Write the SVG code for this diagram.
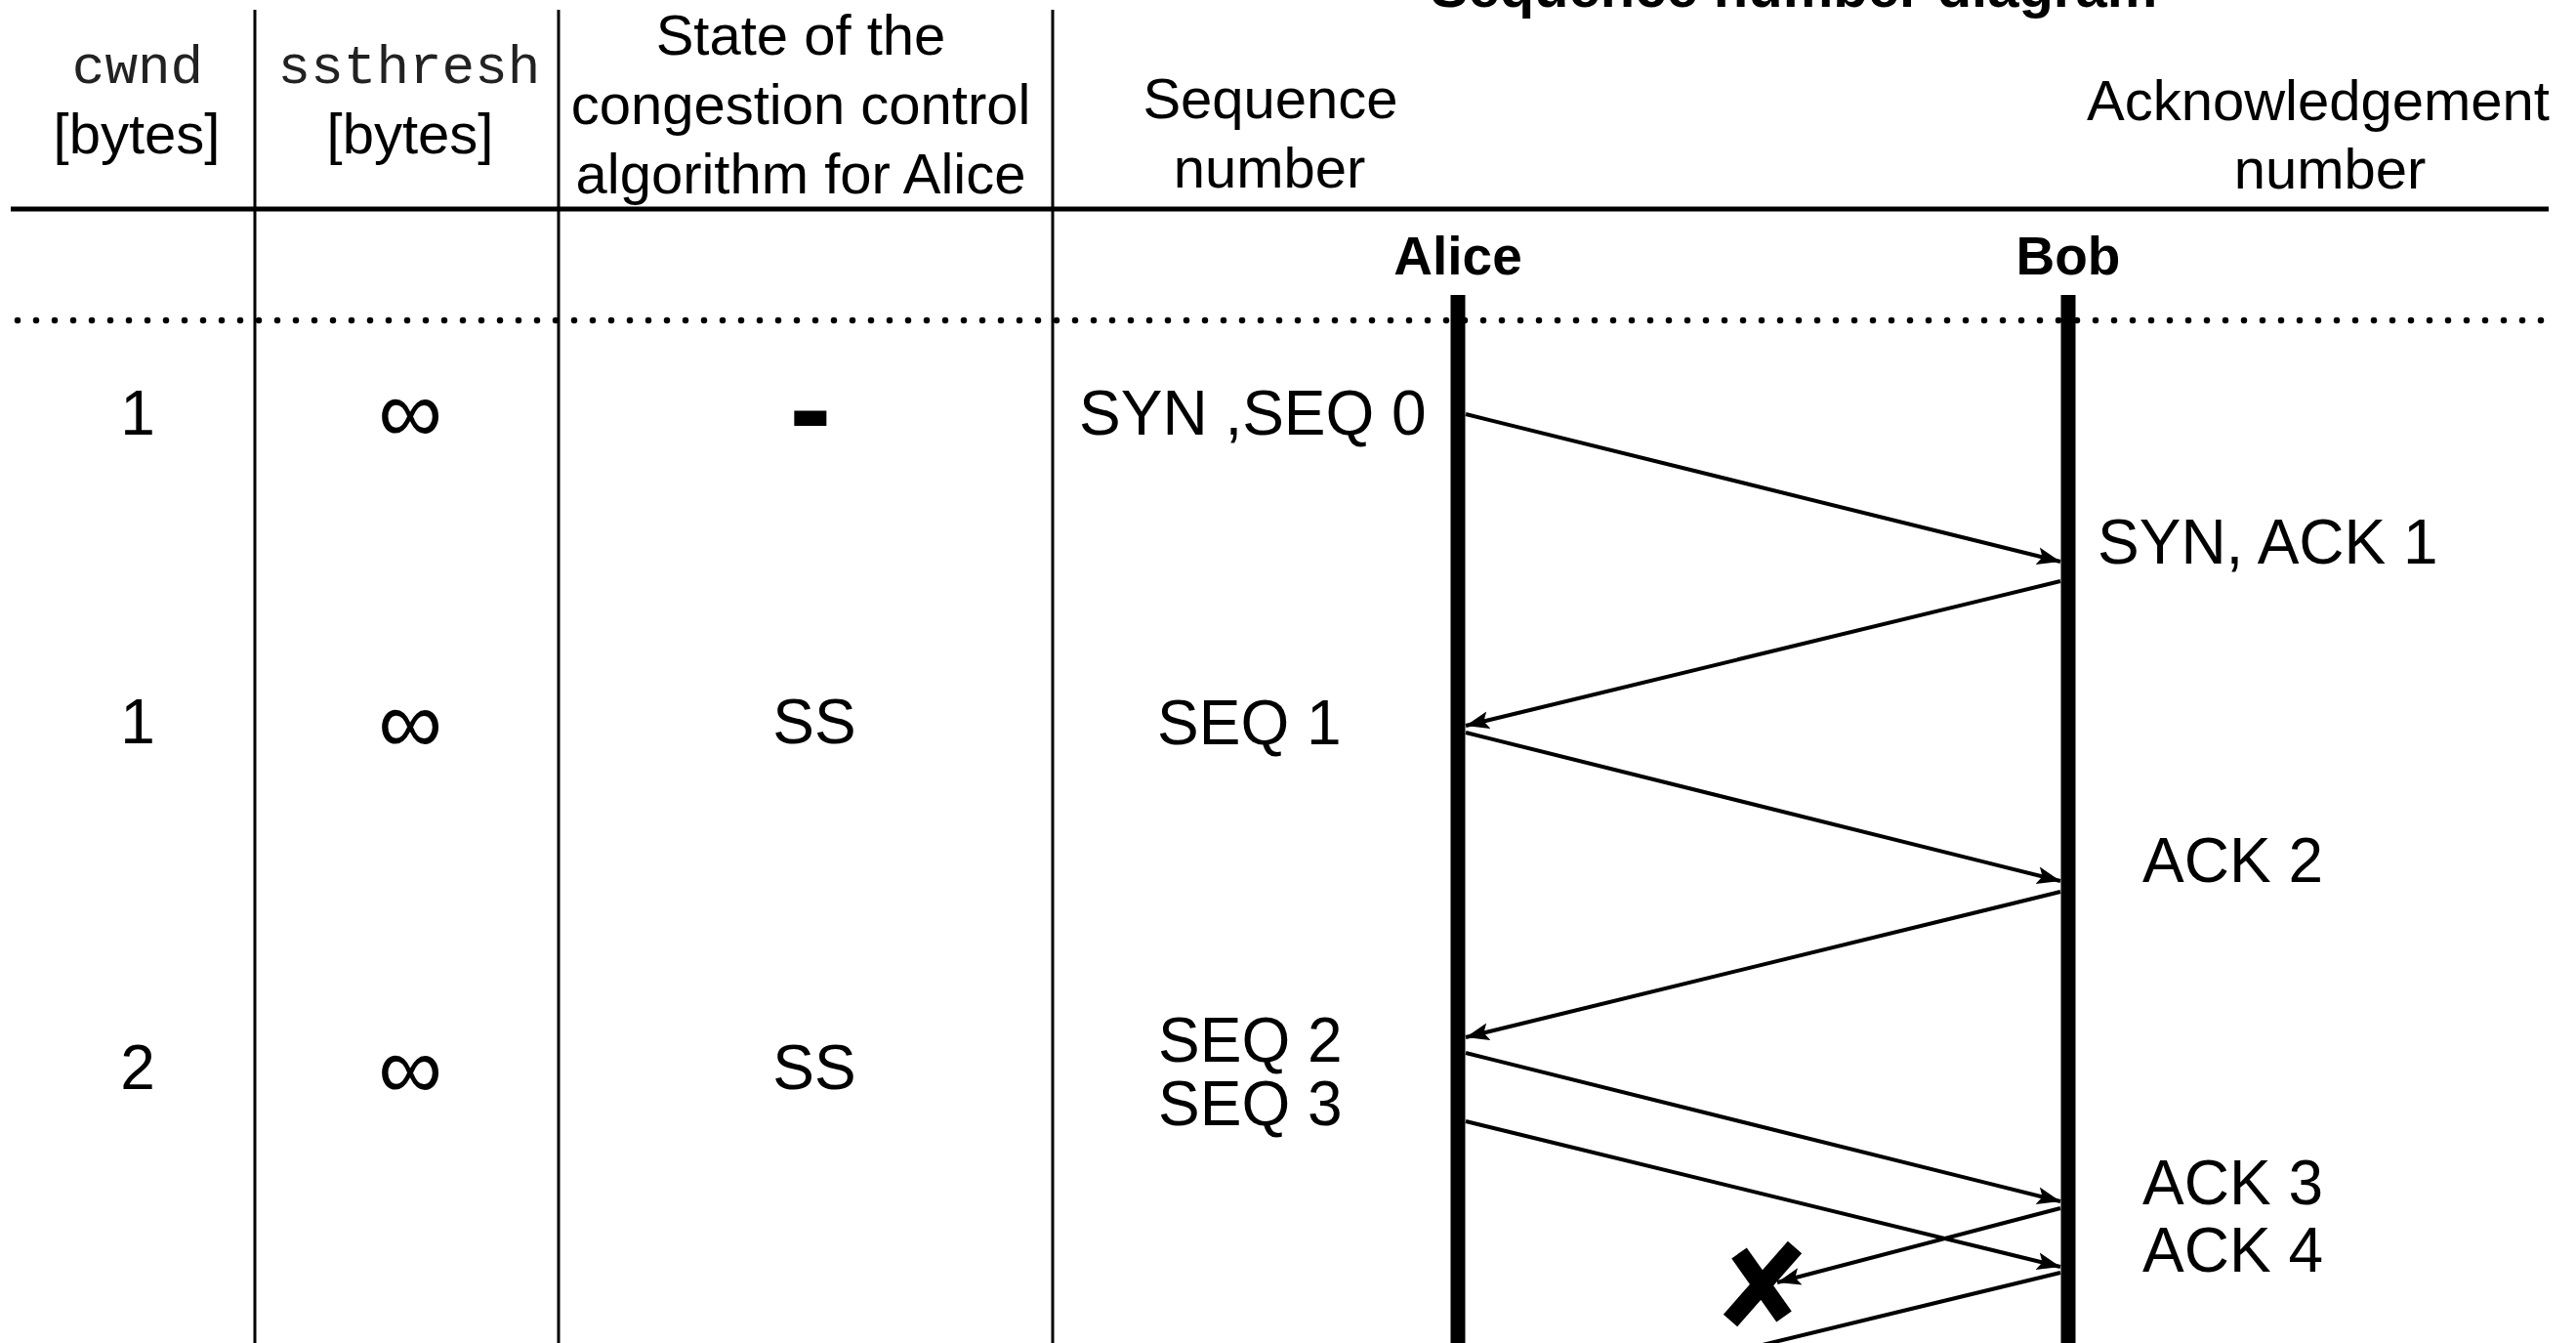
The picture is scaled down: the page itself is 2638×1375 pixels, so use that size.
<svg xmlns="http://www.w3.org/2000/svg" width="2638" height="1375" viewBox="0 0 2638 1375">
<defs>
<style>
.hd{font-family:"Liberation Sans",Arial,sans-serif;font-size:58px;fill:#000;text-anchor:middle}
.hb{font-family:"Liberation Sans",Arial,sans-serif;font-size:58px;font-weight:bold;fill:#000;text-anchor:middle}
.mono{font-family:"Liberation Mono","Courier New",monospace;font-size:56px;fill:#222;text-anchor:middle}
.row{font-family:"Liberation Sans",Arial,sans-serif;font-size:64px;fill:#000}
.mid{text-anchor:middle}
.inf{font-family:"Liberation Sans",Arial,sans-serif;font-size:92px;fill:#000;text-anchor:middle}
.grid{stroke:#000;stroke-width:3;fill:none}
.life{stroke:#000;stroke-width:15;fill:none}
.msg{stroke:#000;stroke-width:4;fill:none}
</style>
<marker id="ah" markerUnits="userSpaceOnUse" markerWidth="26" markerHeight="20" refX="24" refY="10" orient="auto">
<path d="M0,1 L24,10 L0,19 L5,10 Z" fill="#000"/>
</marker>
</defs>
<rect width="2638" height="1375" fill="#fff"/>

<g id="table">
<line class="grid" x1="261" y1="10" x2="261" y2="1375"/>
<line class="grid" x1="572" y1="10" x2="572" y2="1375"/>
<line class="grid" x1="1078" y1="10" x2="1078" y2="1375"/>
<line x1="11" y1="214" x2="2610" y2="214" stroke="#000" stroke-width="5"/>
<line x1="18" y1="328" x2="2610" y2="328" stroke="#000" stroke-width="6.5" stroke-linecap="round" stroke-dasharray="0 19"/>
</g>

<g id="headers">
<text class="hb" x="1837" y="7">Sequence number diagram</text>
<text class="mono" x="141" y="85">cwnd</text>
<text class="hd" x="140" y="157">[bytes]</text>
<text class="mono" x="419" y="85">ssthresh</text>
<text class="hd" x="420" y="157">[bytes]</text>
<text class="hd" x="820" y="56">State of the</text>
<text class="hd" x="820" y="127">congestion control</text>
<text class="hd" x="820" y="198">algorithm for Alice</text>
<text class="hd" x="1301" y="121">Sequence</text>
<text class="hd" x="1300" y="192">number</text>
<text class="hd" x="2374" y="123">Acknowledgement</text>
<text class="hd" x="2386" y="193">number</text>
</g>

<g id="alice">
<line class="life" x1="1493" y1="302" x2="1493" y2="1375"/>
<text class="hb" x="1493" y="281" style="font-size:55px">Alice</text>
</g>
<g id="bob">
<line class="life" x1="2118" y1="302" x2="2118" y2="1375"/>
<text class="hb" x="2118" y="281" style="font-size:55px">Bob</text>
</g>

<g id="row1">
<text class="row mid" x="141" y="445">1</text>
<text class="inf" x="420" y="453">∞</text>
<text x="830" y="462" style="font-family:'Liberation Sans',Arial,sans-serif;font-size:130px;font-weight:bold;text-anchor:middle">-</text>
<text class="row" x="1105" y="445">SYN ,SEQ 0</text>
<text class="row" x="2148" y="577">SYN, ACK 1</text>
</g>
<g id="row2">
<text class="row mid" x="141" y="761">1</text>
<text class="inf" x="420" y="771">∞</text>
<text class="row mid" x="834" y="761">SS</text>
<text class="row" x="1185" y="762">SEQ 1</text>
<text class="row" x="2194" y="903">ACK 2</text>
</g>
<g id="row3">
<text class="row mid" x="141" y="1115">2</text>
<text class="inf" x="420" y="1125">∞</text>
<text class="row mid" x="834" y="1115">SS</text>
<text class="row" x="1186" y="1087">SEQ 2</text>
<text class="row" x="1186" y="1152">SEQ 3</text>
<text class="row" x="2194" y="1233">ACK 3</text>
<text class="row" x="2194" y="1302">ACK 4</text>
</g>

<g id="loss">
<line x1="1838" y1="1277" x2="1772" y2="1352" stroke="#000" stroke-width="19"/>
<line x1="1781" y1="1283" x2="1827" y2="1348" stroke="#000" stroke-width="19"/>
</g>

<g id="connectors">
<line class="msg" x1="1501" y1="424" x2="2110" y2="575" marker-end="url(#ah)"/>
<line class="msg" x1="2110" y1="595" x2="1501" y2="743" marker-end="url(#ah)"/>
<line class="msg" x1="1501" y1="750" x2="2110" y2="902" marker-end="url(#ah)"/>
<line class="msg" x1="2110" y1="913" x2="1501" y2="1062" marker-end="url(#ah)"/>
<line class="msg" x1="1501" y1="1078" x2="2110" y2="1230" marker-end="url(#ah)"/>
<line class="msg" x1="1501" y1="1148" x2="2110" y2="1297" marker-end="url(#ah)"/>
<line class="msg" x1="2110" y1="1237" x2="1820" y2="1313" marker-end="url(#ah)"/>
<line class="msg" x1="2110" y1="1303" x2="1780" y2="1383"/>
</g>
</svg>
